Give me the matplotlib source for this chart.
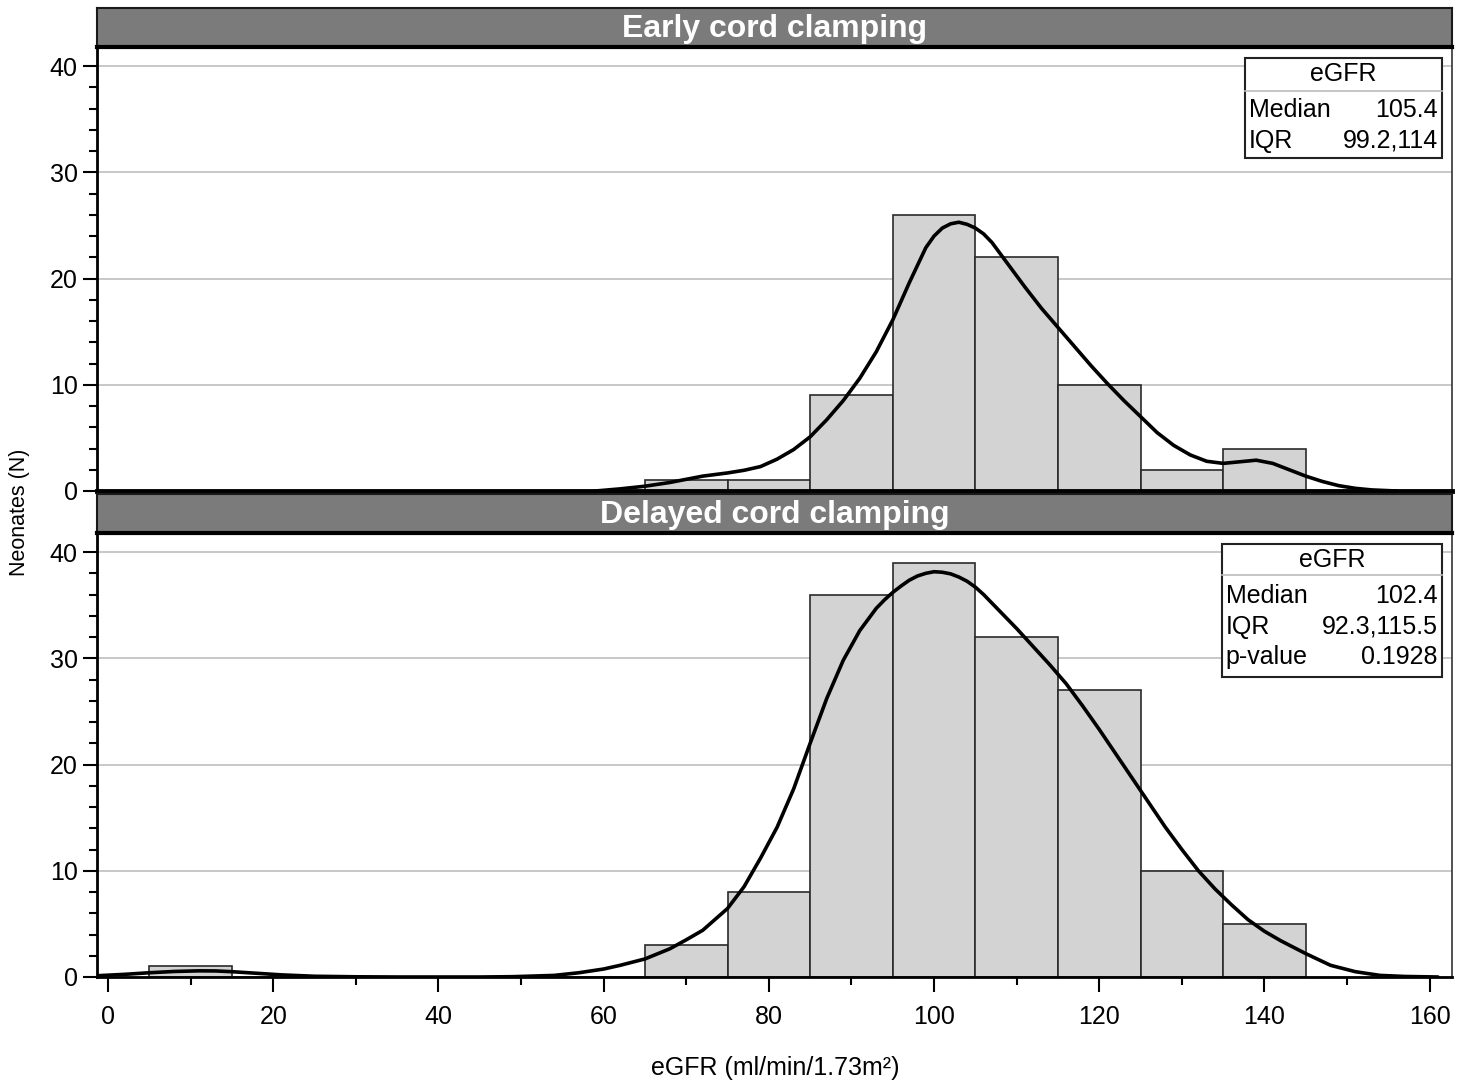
import matplotlib.pyplot as plt
from matplotlib.patches import Rectangle
from matplotlib.ticker import MultipleLocator

plt.rcParams['font.family'] = ['Liberation Sans', 'DejaVu Sans']

# Data:

bin_centers = [10, 20, 30, 40, 50, 60, 70, 80, 90, 100, 110, 120, 130, 140]
early_counts = [0, 0, 0, 0, 0, 0, 1, 1, 9, 26, 22, 10, 2, 4]
delayed_counts = [1, 0, 0, 0, 0, 0, 3, 8, 36, 39, 32, 27, 10, 5]

# density curves (scaled to counts)
early_curve_x = [59, 62, 65, 68, 70, 72, 75, 77, 79, 81, 83, 85, 87, 89, 91, 93, 95, 97, 99,
                 100, 101, 102, 103, 104, 105, 106, 107, 109, 111, 113, 115, 117, 119, 121, 123,
                 125, 127, 129, 131, 133, 135, 137, 139, 141, 143, 145, 147, 149, 151, 153, 156]
early_curve_y = [0, 0.2, 0.45, 0.8, 1.1, 1.4, 1.7, 1.95, 2.3, 3.0, 3.9, 5.1, 6.7, 8.5, 10.6,
                 13.1, 16.1, 19.6, 22.9, 24.0, 24.75, 25.15, 25.3, 25.1, 24.75, 24.2, 23.4, 21.3,
                 19.2, 17.2, 15.4, 13.6, 11.8, 10.1, 8.5, 7.0, 5.5, 4.3, 3.4, 2.8, 2.6, 2.75,
                 2.9, 2.6, 2.0, 1.4, 0.9, 0.5, 0.25, 0.1, 0]

delayed_curve_x = [-1.3, 2, 5, 8, 11, 13, 15, 18, 21, 25, 30, 35, 40, 45, 49, 54, 57, 60, 62, 65,
                   68, 70, 72, 75, 77, 79, 81, 83, 85, 87, 89, 91, 93, 94, 95, 96, 97, 98, 99,
                   100, 101, 102, 103, 104, 105, 106, 107, 108, 110, 112, 114, 116, 118, 120,
                   122, 124, 126, 128, 130, 132, 134, 136, 138, 140, 142, 145, 148, 151, 154,
                   157, 161]
delayed_curve_y = [0.12, 0.25, 0.4, 0.52, 0.58, 0.57, 0.5, 0.35, 0.2, 0.07, 0.02, 0, 0, 0, 0.03,
                   0.15, 0.4, 0.75, 1.1, 1.7, 2.65, 3.5, 4.4, 6.45, 8.5, 11.2, 14.1, 17.7, 22.0,
                   26.2, 29.8, 32.6, 34.7, 35.5, 36.2, 36.8, 37.35, 37.75, 38.0, 38.15, 38.1,
                   37.95, 37.65, 37.25, 36.7, 36.0, 35.2, 34.4, 32.8, 31.1, 29.4, 27.6, 25.5,
                   23.3, 21.0, 18.7, 16.4, 14.1, 12.0, 10.0, 8.3, 6.8, 5.4, 4.3, 3.4, 2.2, 1.1,
                   0.5, 0.15, 0.05, 0]

early_stats = [('Median', '105.4'), ('IQR', '99.2,114')]
delayed_stats = [('Median', '102.4'), ('IQR', '92.3,115.5'), ('p-value', '0.1928')]

W, H = 1468, 1084
fig = plt.figure(figsize=(W / 100, H / 100), dpi=100)


def px_box(x0, y0, x1, y1):
    # pixel rectangle (top-left origin) -> figure fraction [left, bottom, width, height]
    return [x0 / W, 1 - y1 / H, (x1 - x0) / W, (y1 - y0) / H]


def header(rect, title):
    hx = fig.add_axes(rect)
    hx.set_facecolor('#7b7b7b')
    hx.set_xticks([])
    hx.set_yticks([])
    for s in hx.spines.values():
        s.set_linewidth(1.5)
        s.set_color('#1a1a1a')
    hx.spines['bottom'].set_linewidth(3)
    hx.spines['bottom'].set_color('black')
    hx.text(0.5, 0.47, title, ha='center', va='center', color='white', fontsize=23,
            fontweight='bold', transform=hx.transAxes)


def panel(rect, counts, cx, cy, stats, box_left, box_bottom, sep_y):
    ax = fig.add_axes(rect)
    ax.bar(bin_centers, counts, width=10, color='#d3d3d3', edgecolor='#2a2a2a', linewidth=1.2,
           zorder=2)
    ax.plot(cx, cy, color='black', lw=2.6, zorder=3, solid_capstyle='round',
            solid_joinstyle='round')
    ax.set_xlim(-1.33, 162.7)
    ax.set_ylim(0, 41.7)
    ax.yaxis.set_major_locator(MultipleLocator(10))
    ax.yaxis.set_minor_locator(MultipleLocator(2))
    ax.grid(axis='y', color='#c4c4c4', lw=1.3, zorder=0)
    ax.tick_params(axis='y', which='major', length=10, width=1.5, labelsize=18, pad=4)
    ax.tick_params(axis='y', which='minor', length=6, width=1.5)
    ax.spines['left'].set_linewidth(2)
    ax.spines['right'].set_linewidth(1.2)
    ax.spines['right'].set_color('#333333')
    ax.spines['top'].set_visible(False)

    # stats box
    ax.add_patch(Rectangle((box_left, box_bottom), 0.9926 - box_left, 0.977 - box_bottom,
                           transform=ax.transAxes, fill=True, facecolor='white',
                           edgecolor='#222222', lw=1.5, zorder=4))
    ax.plot([box_left, 0.9926], [sep_y, sep_y], transform=ax.transAxes, color='#bbbbbb',
            lw=1.2, zorder=5)
    ax.text((box_left + 0.9926) / 2, 0.941, 'eGFR', transform=ax.transAxes, ha='center',
            va='center', fontsize=18, zorder=6)
    row_y = 0.860
    for name, val in stats:
        ax.text(box_left + 0.003, row_y, name, transform=ax.transAxes, ha='left', va='center',
                fontsize=18, zorder=6)
        ax.text(0.9896, row_y, val, transform=ax.transAxes, ha='right', va='center',
                fontsize=18, zorder=6)
        row_y -= 0.069
    return ax


ax_top = panel(px_box(97, 48, 1452, 491), early_counts, early_curve_x, early_curve_y,
               early_stats, 0.847, 0.752, 0.903)
ax_top.set_xticks([])
ax_top.spines['bottom'].set_linewidth(3.5)

ax_bot = panel(px_box(97, 534, 1452, 977), delayed_counts, delayed_curve_x, delayed_curve_y,
               delayed_stats, 0.830, 0.677, 0.907)
ax_bot.xaxis.set_major_locator(MultipleLocator(20))
ax_bot.xaxis.set_minor_locator(MultipleLocator(10))
ax_bot.tick_params(axis='x', which='major', length=11, width=1.5, labelsize=18, pad=9)
ax_bot.tick_params(axis='x', which='minor', length=6, width=1.5)
ax_bot.spines['bottom'].set_linewidth(2)

header(px_box(97, 8, 1452, 47), 'Early cord clamping')
header(px_box(97, 494, 1452, 533), 'Delayed cord clamping')

fig.text(20 / W, 1 - 512 / H, 'Neonates (N)', rotation=90, ha='center', va='center', fontsize=15.5)
fig.text(775 / W, 1 - 1068 / H, 'eGFR (ml/min/1.73m²)', ha='center', va='center', fontsize=18)

plt.savefig('out.png', dpi=100)
